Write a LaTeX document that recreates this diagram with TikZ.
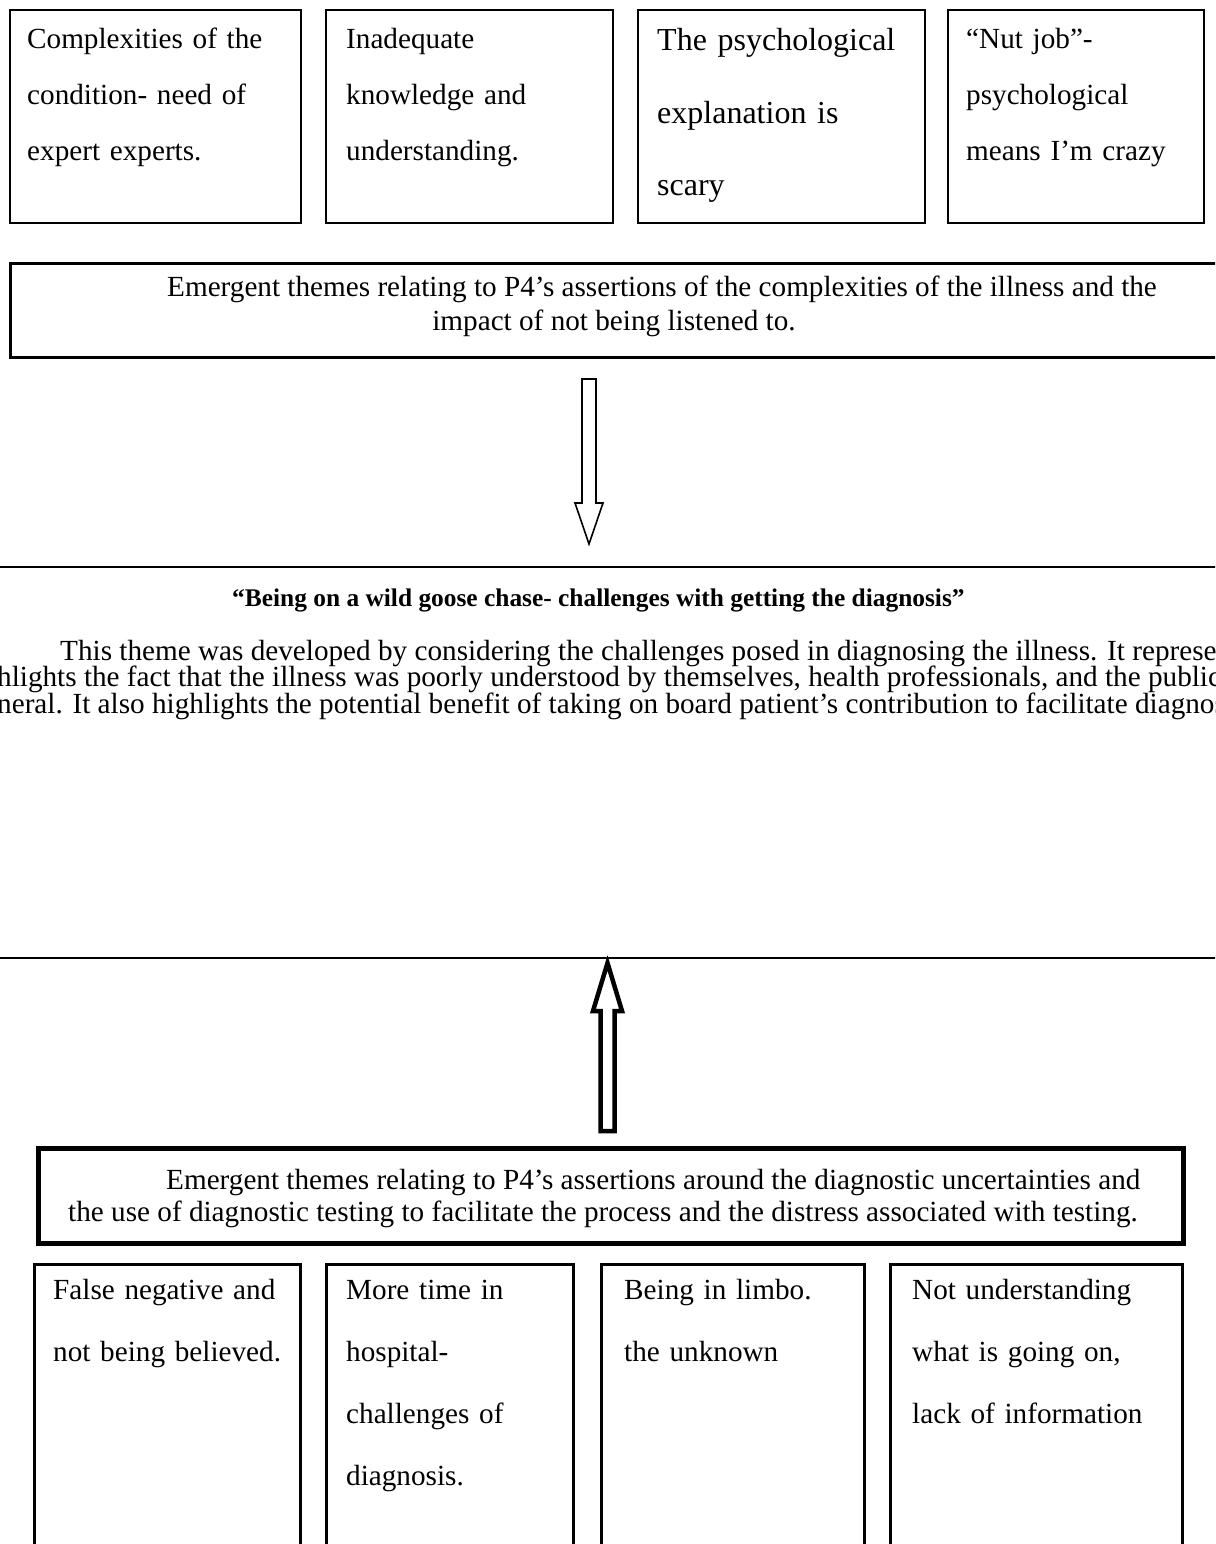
\documentclass[tikz,border=0pt]{standalone}
\usepackage{fontspec}
\setmainfont{Liberation Serif}
\begin{document}
\begin{tikzpicture}[x=1pt,y=-1pt,
  frame/.style={draw, inner sep=0pt, anchor=north west},
  lbl/.style={anchor=base west, inner sep=0pt, align=left, text width=320pt},
  line/.style={anchor=base west, inner sep=0pt},
  boxfont/.style={font=\fontsize{29.2}{56}\selectfont},
  bodyfont/.style={font=\fontsize{29.2}{34}\selectfont},
  blockarrow/.style={draw, fill=white, line join=miter}
]
\useasboundingbox (0,0) rectangle (1215,1544);
\clip (0,0) rectangle (1215,1544);

% ---- top row of boxes ----
\node[frame, line width=2pt, minimum width=291pt, minimum height=213pt] (b1) at (9,9) {};
\node[frame, line width=2pt, minimum width=287pt, minimum height=213pt] (b2) at (325,9) {};
\node[frame, line width=2pt, minimum width=287pt, minimum height=213pt] (b3) at (637,9) {};
\node[frame, line width=2pt, minimum width=256pt, minimum height=213pt] (b4) at (947,9) {};

\node[lbl, boxfont] (t1) at (27,49) {Complexities of the\\condition- need of\\expert experts.};
\node[lbl, boxfont] (t2) at (346,49) {Inadequate\\knowledge and\\understanding.};
\node[lbl, font=\fontsize{32}{72.5}\selectfont] (t3) at (657,51) {The psychological\\explanation is\\scary};
\node[lbl, boxfont] (t4) at (966,49) {“Nut job”-\\psychological\\means I’m crazy};

% ---- first theme box ----
\node[frame, line width=3pt, minimum width=1240pt, minimum height=94pt] (thA) at (9,262) {};
\node[line, bodyfont] (thA1) at (167,296) {Emergent themes relating to P4’s assertions of the complexities of the illness and the};
\node[anchor=base, inner sep=0pt, bodyfont] (thA2) at (614,330) {impact of not being listened to.};

% ---- down block arrow ----
\draw[blockarrow, line width=1.6pt] (582,379) -- (596,379) -- (596,503) -- (603,503)
  -- (589,544) -- (575,503) -- (582,503) -- cycle;

% ---- horizontal rules ----
\coordinate (r1l) at (-5,567);
\coordinate (r1r) at (1225,567);
\draw[line width=2.5pt] (r1l) -- (r1r);
\coordinate (r2l) at (-5,958);
\coordinate (r2r) at (1225,958);
\draw[line width=2.5pt] (r2l) -- (r2r);

% ---- title and paragraph ----
\node[line, font=\fontsize{25.4}{30}\selectfont\bfseries] (title) at (232,606)
  {“Being on a wild goose chase- challenges with getting the diagnosis”};
\node[line, bodyfont] (p1) at (60,660) {This theme was developed by considering the challenges posed in diagnosing the illness. It represe};
\node[line, bodyfont] (p2) at (-3,686.5) {hlights the fact that the illness was poorly understood by themselves, health professionals, and the public};
\node[line, bodyfont] (p3) at (-3,713) {neral. It also highlights the potential benefit of taking on board patient’s contribution to facilitate diagnos};

% ---- up block arrow ----
\draw[blockarrow, line width=4.5pt] (600.5,1131) -- (600.5,1011) -- (593,1011) -- (607.5,963)
  -- (622,1011) -- (614.5,1011) -- (614.5,1131) -- cycle;

% ---- second theme box ----
\node[frame, line width=5pt, minimum width=1145pt, minimum height=95pt] (thB) at (35.5,1145.5) {};
\node[line, bodyfont] (thB1) at (166,1189) {Emergent themes relating to P4’s assertions around the diagnostic uncertainties and};
\node[line, bodyfont] (thB2) at (68,1221) {the use of diagnostic testing to facilitate the process and the distress associated with testing.};

% ---- bottom row of boxes ----
\node[frame, line width=2.5pt, minimum width=266pt, minimum height=320pt] (c1) at (33,1263) {};
\node[frame, line width=2.5pt, minimum width=247pt, minimum height=320pt] (c2) at (325,1263) {};
\node[frame, line width=2.5pt, minimum width=263pt, minimum height=320pt] (c3) at (600,1263) {};
\node[frame, line width=2.5pt, minimum width=292pt, minimum height=320pt] (c4) at (889,1263) {};

\node[lbl, font=\fontsize{29.2}{62}\selectfont] (u1) at (53,1299) {False negative and\\not being believed.};
\node[lbl, font=\fontsize{29.2}{62}\selectfont] (u2) at (346,1299) {More time in\\hospital-\\challenges of\\diagnosis.};
\node[lbl, font=\fontsize{29.2}{62}\selectfont] (u3) at (624,1299) {Being in limbo.\\the unknown};
\node[lbl, font=\fontsize{29.2}{62}\selectfont] (u4) at (912,1299) {Not understanding\\what is going on,\\lack of information};
\end{tikzpicture}
\end{document}
